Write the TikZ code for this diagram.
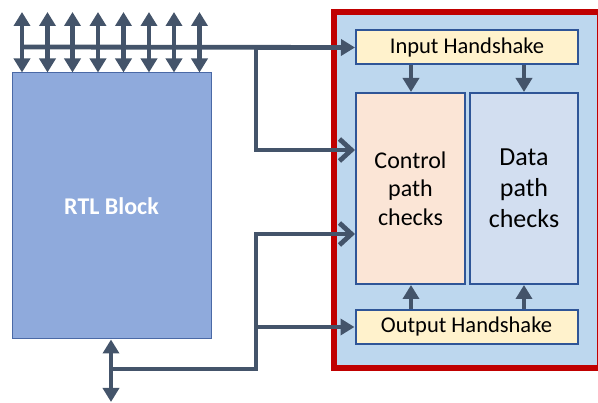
\documentclass[tikz,border=0pt]{standalone}
\usepackage{fontspec}
\setmainfont{Carlito}
\usetikzlibrary{arrows.meta}
\definecolor{wire}{HTML}{44546A}
\definecolor{bord}{HTML}{2F5597}
\definecolor{hsfill}{HTML}{FFF2CC}
\definecolor{cpfill}{HTML}{FBE5D6}
\definecolor{dpfill}{HTML}{D2DEF0}
\definecolor{bgfill}{HTML}{BDD7EE}
\definecolor{rtlfill}{HTML}{8FAADC}
\definecolor{rtlbord}{HTML}{4A69A6}
\definecolor{frame}{HTML}{C00000}
\tikzset{
  wirestyle/.style={draw=wire, line width=4.8pt},
  solidtip/.tip={Triangle[length=14pt,width=16pt]},
  opentip/.tip={Straight Barb[length=12pt,width=22pt]},
  box/.style={draw=bord, line width=2pt, inner sep=0pt, align=center, text=black},
  hsbox/.style={box, fill=hsfill, minimum width=222pt, minimum height=34pt, font=\fontsize{22.5}{26}\selectfont},
}
\begin{document}
\begin{tikzpicture}[x=1pt,y=-1pt]
\useasboundingbox (0,0) rectangle (598,403);
% checker frame
\draw[frame, line width=6pt, fill=bgfill] (334,12) rectangle (599.5,368.5);
% nodes
\node[hsbox] (ih) at (467,47.5) {Input Handshake};
\node[hsbox] (oh) at (466.5,327) {Output Handshake};
\node[box, fill=cpfill, minimum width=109pt, minimum height=191pt,
      font=\fontsize{24}{28.5}\selectfont] (cp) at (410.5,188.5) {Control\\path\\checks};
\node[box, fill=dpfill, minimum width=108pt, minimum height=191pt,
      font=\fontsize{26}{31}\selectfont] (dp) at (524,188.5) {Data\\path\\checks};
\node[draw=rtlbord, line width=1pt, fill=rtlfill, minimum width=199pt, minimum height=266pt,
      inner sep=0pt, text=white, font=\fontsize{24}{28}\selectfont\bfseries] (rtl) at (111.5,206) {RTL Block};
% coordinates
\coordinate (bus0) at (22,47);
\coordinate (jt) at (256,47);
\coordinate (cy1) at (0,150);
\coordinate (cy2) at (0,234);
\coordinate (jb) at (256,369);
\coordinate (rb) at (111,402);
\coordinate (rbm) at (111,369);
% bus
\draw[wirestyle, -solidtip] (bus0) -- (ih.west);
\foreach \i/\x in {1/22,2/47.5,3/72.5,4/98,5/123.5,6/149,7/174,8/199.5}{
  \coordinate (t\i) at (\x,12);
  \draw[wirestyle, solidtip-solidtip] (t\i) -- (t\i |- rtl.north);
}
\draw[wirestyle, -opentip] (jt) |- (cp.west |- cy1);
% bottom
\draw[wirestyle, solidtip-solidtip] (rtl.south -| rb) -- (rb);
\draw[wirestyle, -opentip] (rbm) -| (jb |- cy2) -- (cp.west |- cy2);
\draw[wirestyle, -solidtip] (jb |- oh.west) -- (oh.west);
% internal arrows
\draw[wirestyle, -solidtip] (ih.south -| 411,0) -- (cp.north -| 411,0);
\draw[wirestyle, -solidtip] (ih.south -| 524,0) -- (dp.north);
\draw[wirestyle, -solidtip] (oh.north -| 411,0) -- (cp.south -| 411,0);
\draw[wirestyle, -solidtip] (oh.north -| 524,0) -- (dp.south);
\end{tikzpicture}
\end{document}
